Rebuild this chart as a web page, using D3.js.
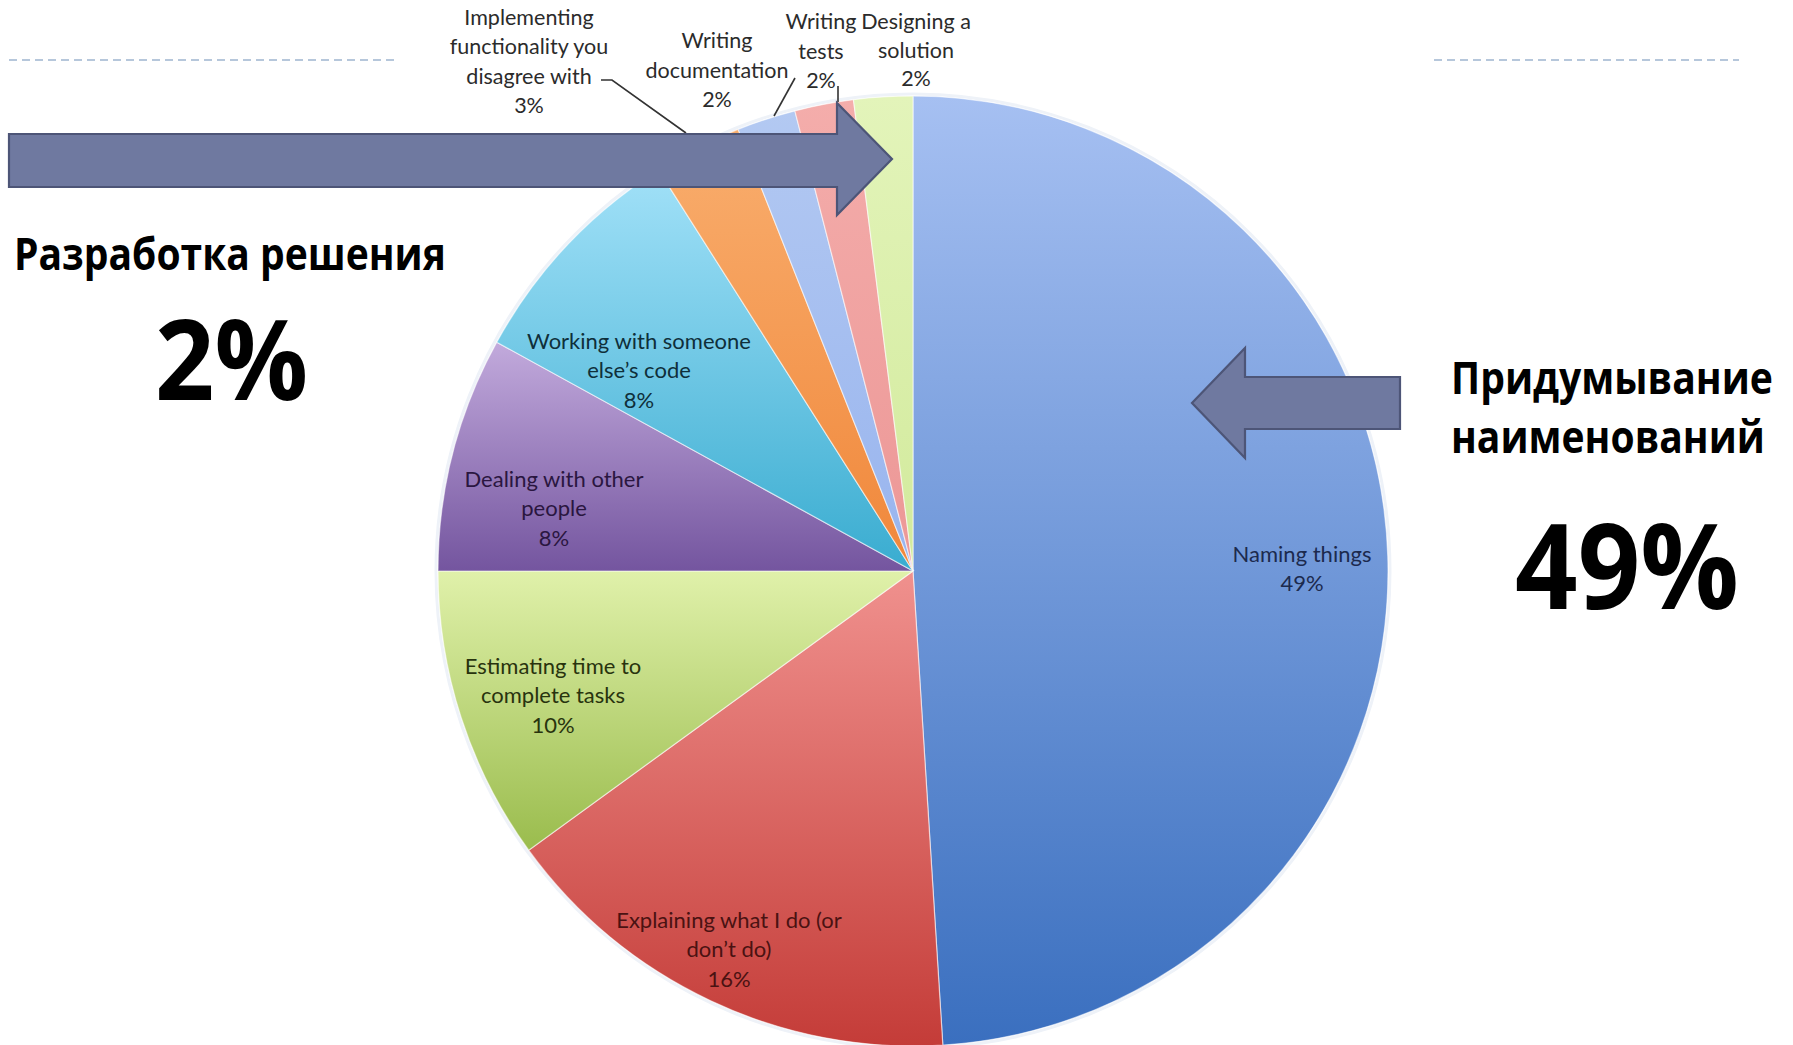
<!DOCTYPE html>
<html>
<head>
<meta charset="utf-8">
<script src="https://cdn.jsdelivr.net/npm/d3@7/dist/d3.min.js"></script>
<style>
  html, body { margin: 0; padding: 0; background: #ffffff; }
  svg { display: block; }
</style>
</head>
<body>
<svg id="chart" width="1793" height="1045"></svg>
<script>
// ---------------- DATA ----------------
const categories = [
  "Naming things",
  "Explaining what I do (or don\u2019t do)",
  "Estimating time to complete tasks",
  "Dealing with other people",
  "Working with someone else\u2019s code",
  "Implementing functionality you disagree with",
  "Writing documentation",
  "Writing tests",
  "Designing a solution"
];
const values = [49, 16, 10, 8, 8, 3, 2, 2, 2];
const labelLines = [
  ["Naming things"],
  ["Explaining what I do (or", "don\u2019t do)"],
  ["Estimating time to", "complete tasks"],
  ["Dealing with other", "people"],
  ["Working with someone", "else\u2019s code"],
  ["Implementing", "functionality you", "disagree with"],
  ["Writing", "documentation"],
  ["Writing", "tests"],
  ["Designing a", "solution"]
];
const colorsTop    = ["#a6c0f2", "#f0918e", "#e0f1aa", "#c2aadc", "#a2e1f8", "#f9ae6e", "#b3c9f2", "#f4adab", "#e3f4ba"];
const colorsBottom = ["#3a6fbf", "#c43c38", "#9abc4d", "#74559f", "#39acd0", "#f0873a", "#98b4ee", "#ec9796", "#d2ea9c"];
const textColors   = ["#1c2a4e", "#4a1212", "#28330e", "#2a1640", "#0f2f3a", "#2b2b2b", "#2b2b2b", "#2b2b2b", "#2b2b2b"];

const leftTitle = "Разработка решения";
const leftValue = "2%";
const rightTitle = ["Придумывание", "наименований"];
const rightValue = "49%";

// ---------------- LAYOUT ----------------
const svg = d3.select("#chart");
const cx = 913, cy = 571, R = 475;
const inner = [
  {i: 0, x: 1302, y: 553},
  {i: 1, x: 729,  y: 919},
  {i: 2, x: 553,  y: 665},
  {i: 3, x: 554,  y: 478},
  {i: 4, x: 639,  y: 340}
];
const outer = [
  {i: 5, x: 529, y: 17, lh: 29.3},
  {i: 6, x: 717, y: 40, lh: 29.5},
  {i: 7, x: 821, y: 21, lh: 29.5},
  {i: 8, x: 916, y: 21, lh: 28.5}
];

const defs = svg.append("defs");
values.forEach((v, i) => {
  const g = defs.append("linearGradient")
    .attr("id", "grad" + i)
    .attr("x1", 0).attr("y1", 0).attr("x2", 0).attr("y2", 1);
  g.append("stop").attr("offset", "0%").attr("stop-color", colorsTop[i]);
  g.append("stop").attr("offset", "100%").attr("stop-color", colorsBottom[i]);
});

// dashed lines
const dashes = [[9, 396], [1434, 1739]];
svg.selectAll("line.dash").data(dashes).enter().append("line")
  .attr("class", "dash")
  .attr("x1", d => d[0]).attr("x2", d => d[1])
  .attr("y1", 60).attr("y2", 60)
  .attr("stroke", "#9fb5cf").attr("stroke-width", 1.6)
  .attr("stroke-dasharray", "8,5");

// pie
const pie = d3.pie().sort(null).value(d => d)(values);
const arc = d3.arc().innerRadius(0).outerRadius(R);
const pg = svg.append("g").attr("transform", `translate(${cx},${cy})`);
pg.append("circle").attr("r", R + 2).attr("fill", "none")
  .attr("stroke", "#eef2f8").attr("stroke-width", 3);
pg.selectAll("path.slice").data(pie).enter().append("path")
  .attr("class", "slice")
  .attr("d", arc)
  .attr("fill", (d, i) => `url(#grad${i})`)
  .attr("stroke", "rgba(255,255,255,0.55)")
  .attr("stroke-width", 1.2);

// inner labels
const font = "Lato, 'Open Sans', sans-serif";
inner.forEach(p => {
  const lines = labelLines[p.i].concat([values[p.i] + "%"]);
  const t = svg.append("text")
    .attr("text-anchor", "middle")
    .attr("font-family", font)
    .attr("font-size", 22)
    .attr("fill", textColors[p.i]);
  lines.forEach((l, k) => {
    t.append("tspan").attr("x", p.x).attr("y", p.y + k * 29.5)
      .attr("dominant-baseline", "central").text(l);
  });
});

// outer labels
outer.forEach(p => {
  const lines = labelLines[p.i].concat([values[p.i] + "%"]);
  const t = svg.append("text")
    .attr("text-anchor", "middle")
    .attr("font-family", font)
    .attr("font-size", 21.5)
    .attr("fill", textColors[p.i]);
  lines.forEach((l, k) => {
    t.append("tspan").attr("x", p.x).attr("y", p.y + k * p.lh)
      .attr("dominant-baseline", "central").text(l);
  });
});

// leader lines
const leaders = [
  [[601, 80], [612, 80], [686, 133]],
  [[795, 78], [774, 116]],
  [[838, 86], [838, 102]]
];
svg.selectAll("path.leader").data(leaders).enter().append("path")
  .attr("class", "leader")
  .attr("d", d => d3.line()(d))
  .attr("fill", "none").attr("stroke", "#333").attr("stroke-width", 1.6);

// arrows
const arrows = [
  [[9, 134], [837, 134], [837, 103], [892, 159], [837, 215], [837, 187], [9, 187]],
  [[1400, 377], [1245, 377], [1245, 348], [1192, 403], [1245, 458], [1245, 429], [1400, 429]]
];
svg.selectAll("path.arrow").data(arrows).enter().append("path")
  .attr("class", "arrow")
  .attr("d", d => d3.line()(d) + "Z")
  .attr("fill", "#6f79a0").attr("stroke", "#4d5577").attr("stroke-width", 2.2)
  .attr("stroke-linejoin", "miter");

// big texts: fitted horizontally to a target width with a scale transform
const bold = "'Open Sans', 'DejaVu Sans', sans-serif";
function bigText(str, x, y, size, width) {
  const g = svg.append("g");
  const t = g.append("text").attr("x", 0).attr("y", 0)
    .attr("font-family", bold).attr("font-weight", 700).attr("font-size", size)
    .attr("fill", "#000").text(str);
  const w = t.node().getComputedTextLength();
  const s = width / w;
  g.attr("transform", `translate(${x},${y}) scale(${s},1)`);
}
bigText(leftTitle, 14, 270, 44, 432);
bigText(leftValue, 155, 400, 112, 153);
bigText(rightTitle[0], 1451, 394, 44, 322);
bigText(rightTitle[1], 1451, 453, 44, 314);
bigText(rightValue, 1515, 609, 118, 224);
</script>
</body>
</html>
